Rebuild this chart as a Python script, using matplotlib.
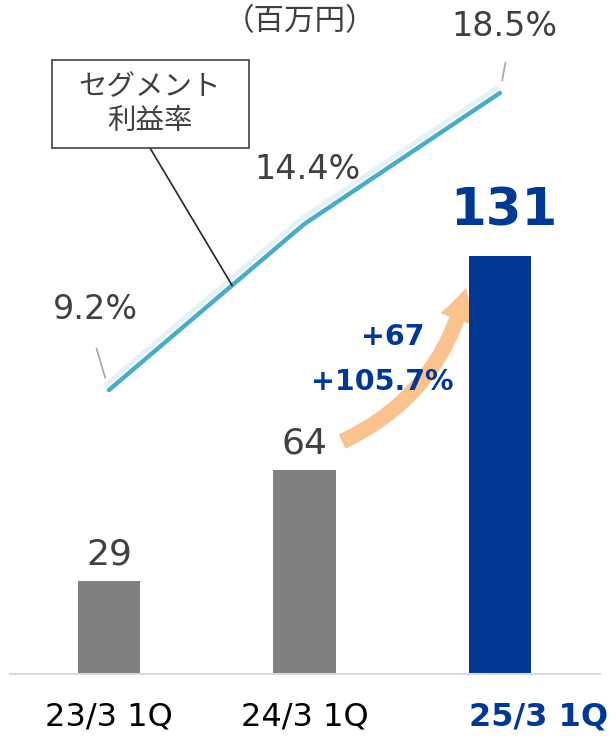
import matplotlib

matplotlib.use("Agg")
import matplotlib.pyplot as plt
from matplotlib import patheffects
from matplotlib.patches import FancyArrowPatch, Rectangle

plt.rcParams["font.family"] = ["DejaVu Sans", "Noto Sans CJK JP"]

# ---- data -------------------------------------------------------------
periods = ["23/3 1Q", "24/3 1Q", "25/3 1Q"]
profit = [29, 64, 131]                 # 百万円
margin = [9.2, 14.4, 18.5]             # セグメント利益率 (%)
profit_labels = ["29", "64", "131"]
margin_labels = ["9.2%", "14.4%", "18.5%"]
growth_abs = "+67"
growth_pct = "+105.7%"
unit_label = "（百万円）"
series_label = "セグメント\n利益率"

# ---- style ------------------------------------------------------------
GRAY = "#7f7f7f"
NAVY = "#003893"
TEXT = "#404040"
LINE = "#4bacc6"
SHADOW = "#e3f1f9"
ORANGE = "#f9c28f"
CJK = ["Noto Sans CJK JP", "DejaVu Sans"]

W, H = 616, 739
fig = plt.figure(figsize=(W / 100, H / 100), dpi=100)
# axes spans pixels x 10..600, baseline at y=674 (from top)
ax = fig.add_axes([10 / W, (H - 674) / H, 590 / W, 674 / H])
ax.set_xlim(-0.506, 2.512)
ax.set_ylim(0, 211.3)
for side in ["top", "right", "left"]:
    ax.spines[side].set_visible(False)
ax.spines["bottom"].set_color("#d9d9d9")
ax.spines["bottom"].set_linewidth(1.5)
ax.set_yticks([])
ax.set_xticks([])

x = list(range(len(periods)))
colors = [GRAY, GRAY, NAVY]
ax.bar(x, profit, width=0.32, color=colors, zorder=2)

# bar value labels
for i, (v, lab) in enumerate(zip(profit, profit_labels)):
    if i == len(profit) - 1:
        ax.annotate(lab, (i, v), xytext=(3, 14), textcoords="offset points",
                    ha="center", va="bottom", fontsize=37, fontweight="bold",
                    color=NAVY)
    else:
        ax.annotate(lab, (i, v), xytext=(0, 7), textcoords="offset points",
                    ha="center", va="bottom", fontsize=26, color=TEXT)

# x category labels
for i, lab in enumerate(periods):
    if i == len(periods) - 1:
        ax.text(i + 0.2, -13.5, lab, ha="center", va="center", fontsize=23,
                fontweight="bold", color=NAVY)
    else:
        ax.text(i, -13.5, lab, ha="center", va="center", fontsize=23,
                color="black")

# secondary axis for the margin line
ax2 = ax.twinx()
ax2.set_ylim(0.31, 21.41)
ax2.axis("off")
ax2.plot(x, margin, color=LINE, lw=3.2, solid_capstyle="round", zorder=3,
         path_effects=[patheffects.SimpleLineShadow(offset=(-2.5, 3.5),
                                                    shadow_color=SHADOW,
                                                    alpha=1.0, rho=1.0),
                       patheffects.Normal()])

# margin labels with little leader ticks
label_offsets = [(-10, 58), (2, 39), (3, 48)]
leader_offsets = [((-9, 30), (-2, 7)), None, ((4, 22), (-1, 7))]
for i, (v, lab) in enumerate(zip(margin, margin_labels)):
    dx, dy = label_offsets[i]
    ax2.annotate(lab, (i, v), xytext=(dx, dy), textcoords="offset points",
                 ha="center", va="center", fontsize=24, color=TEXT)
    if leader_offsets[i] is not None:
        (x0, y0), (x1, y1) = leader_offsets[i]
        ax2.annotate("", (i, v), xytext=(x0, y0), textcoords="offset points",
                     arrowprops=dict(arrowstyle="-", color="#a6a6a6", lw=1.2,
                                     shrinkA=0, shrinkB=9))

# series name box with leader to the line
t = 0.63
ax2.annotate("", (t, margin[0] + t * (margin[1] - margin[0])),
             xytext=(150 / W, 1 - 148 / H), textcoords="figure fraction",
             arrowprops=dict(arrowstyle="-", color="#262626", lw=1.2,
                             shrinkA=0, shrinkB=0))
fig.add_artist(Rectangle((52 / W, 1 - 148 / H), 197 / W, 88 / H,
                         transform=fig.transFigure, facecolor="white",
                         edgecolor=TEXT, lw=1.2, zorder=5))
fig.text(150 / W, 1 - 104 / H, series_label, ha="center", va="center",
         fontsize=20.5, color=TEXT, linespacing=1.15, zorder=6, family=CJK)

# unit label
fig.text(300 / W, 1 - 22 / H, unit_label, ha="center", va="center",
         fontsize=22, color=TEXT, family=CJK)

# growth arrow from bar 2 to bar 3
arrow = FancyArrowPatch((1.18, profit[1] + 8.5), (1.83, profit[2] - 9),
                        connectionstyle="arc3,rad=0.25",
                        arrowstyle="simple,head_width=1.8,head_length=1.7,tail_width=0.8",
                        mutation_scale=14, color=ORANGE, lw=0, zorder=1)
ax.add_patch(arrow)
ax.text(1.45, 105.5, growth_abs, ha="center", va="center", fontsize=20.5,
        fontweight="bold", color=NAVY, zorder=4)
ax.text(1.4, 91.5, growth_pct, ha="center", va="center", fontsize=20.5,
        fontweight="bold", color=NAVY, zorder=4)

fig.savefig("out.png", dpi=100)
